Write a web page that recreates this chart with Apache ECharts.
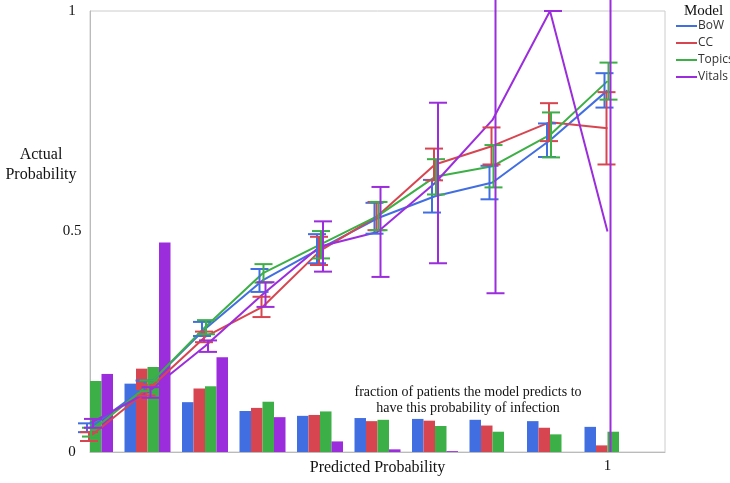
<!DOCTYPE html>
<html>
<head>
<meta charset="utf-8">
<script src="https://cdn.jsdelivr.net/npm/echarts@6/dist/echarts.min.js"></script>
<style>
html,body{margin:0;padding:0;background:#fff;}
#chart{width:730px;height:483px;}
</style>
</head>
<body>
<div id="chart"></div>
<script>
// ---- data ----
var bins = [0.1, 0.2, 0.3, 0.4, 0.5, 0.6, 0.7, 0.8, 0.9, 1.0];
var models = ['BoW', 'CC', 'Topics', 'Vitals'];
var xTickLabels = ['1'];
var yTickLabels = ['0', '0.5', '1'];

// fraction of patients per bin (bars)
var barBoW    = [0.150, 0.155, 0.113, 0.093, 0.082, 0.077, 0.075, 0.073, 0.070, 0.057];
var barCC     = [0.160, 0.189, 0.144, 0.100, 0.084, 0.070, 0.071, 0.060, 0.055, 0.015];
var barTopics = [0.161, 0.193, 0.149, 0.114, 0.092, 0.073, 0.059, 0.046, 0.040, 0.046];
var barVitals = [0.177, 0.475, 0.215, 0.079, 0.024, 0.006, 0.002, 0.000, 0.000, 0.000];

// actual probability (lines)
var actBoW    = [0.055, 0.150, 0.279, 0.389, 0.461, 0.530, 0.580, 0.611, 0.707, 0.820];
var actCC     = [0.035, 0.140, 0.261, 0.329, 0.456, 0.535, 0.652, 0.694, 0.748, 0.734];
var actTopics = [0.045, 0.150, 0.283, 0.405, 0.470, 0.535, 0.624, 0.648, 0.719, 0.841];
var actVitals = [0.065, 0.135, 0.240, 0.357, 0.466, 0.499, 0.610, 0.753, 1.000, 0.500];

// error half-widths
var errBoW    = [0.010, 0.012, 0.016, 0.026, 0.033, 0.035, 0.037, 0.038, 0.038, 0.039];
var errCC     = [0.010, 0.012, 0.012, 0.023, 0.032, 0.032, 0.036, 0.042, 0.043, 0.082];
var errTopics = [0.010, 0.012, 0.016, 0.021, 0.031, 0.032, 0.040, 0.048, 0.051, 0.042];
var errVitals = [0.010, 0.012, 0.013, 0.028, 0.057, 0.102, 0.182, 0.393, 0.000, 0.600];

var colors = ['#416EE1', '#D74650', '#3CAF46', '#9B2DDC'];
var bars = [barBoW, barCC, barTopics, barVitals];
var acts = [actBoW, actCC, actTopics, actVitals];
var errs = [errBoW, errCC, errTopics, errVitals];

var BAR_W = 11.5;
var ERR_OFF = [-3, -1, 1, 3];
var CAP = 9;

var serif = '"Liberation Serif","Times New Roman",serif';
var sans = '"Open Sans","Noto Sans",sans-serif';

var series = [];
models.forEach(function (m, k) {
  series.push({
    name: m + ' fraction',
    type: 'custom',
    z: 1,
    data: bins.map(function (b, i) { return [b, bars[k][i]]; }),
    renderItem: function (params, api) {
      var top = api.coord([api.value(0), api.value(1)]);
      var base = api.coord([api.value(0), 0]);
      var rect = {
        x: top[0] + (k - 2) * BAR_W,
        y: top[1],
        width: BAR_W,
        height: base[1] - top[1]
      };
      var cs = params.coordSys;
      rect = echarts.graphic.clipRectByRect(rect, {x: cs.x, y: cs.y, width: cs.width, height: cs.height});
      if (!rect) return null;
      return { type: 'rect', shape: rect, style: { fill: colors[k] } };
    }
  });
});
models.forEach(function (m, k) {
  series.push({
    name: m,
    type: 'line',
    z: 3,
    showSymbol: false,
    symbol: 'none',
    color: colors[k],
    lineStyle: { width: 2, color: colors[k] },
    data: bins.map(function (b, i) { return [b, acts[k][i]]; })
  });
});
models.forEach(function (m, k) {
  series.push({
    name: m + ' error',
    type: 'custom',
    z: 4,
    data: bins.map(function (b, i) { return [b, acts[k][i] - errs[k][i], acts[k][i] + errs[k][i]]; }),
    renderItem: function (params, api) {
      var lo = api.value(1), hi = api.value(2);
      var loCap = true;
      if (lo < 0) { lo = 0; loCap = false; }
      var pLo = api.coord([api.value(0), lo]);
      var pHi = api.coord([api.value(0), hi]);
      var x = pLo[0] + ERR_OFF[k];
      var st = { stroke: colors[k], lineWidth: 2 };
      var children = [
        { type: 'line', shape: { x1: x, y1: pLo[1], x2: x, y2: pHi[1] }, style: st },
        { type: 'line', shape: { x1: x - CAP, y1: pHi[1], x2: x + CAP, y2: pHi[1] }, style: st }
      ];
      if (loCap) children.push({ type: 'line', shape: { x1: x - CAP, y1: pLo[1], x2: x + CAP, y2: pLo[1] }, style: st });
      return { type: 'group', children: children };
    }
  });
});

var chart = echarts.init(document.getElementById('chart'), null, { renderer: 'canvas' });
chart.setOption({
  animation: false,
  backgroundColor: '#ffffff',
  grid: { left: 90, right: 65, top: 11, bottom: 31, containLabel: false, outerBoundsMode: 'none', show: true, borderColor: '#cccccc', borderWidth: 1 },
  title: {
    text: 'Model', left: 679, top: -1,
    textStyle: { fontFamily: serif, fontSize: 15, fontWeight: 'normal', color: '#111' }
  },
  legend: {
    data: models.map(function (m) { return { name: m, icon: 'rect' }; }),
    orient: 'vertical',
    left: 671, top: 15,
    itemWidth: 21, itemHeight: 2,
    itemGap: 5,
    textStyle: { fontFamily: sans, fontSize: 12, color: '#333', padding: [0, 0, 0, -4] }
  },
  xAxis: {
    type: 'value', min: 0.1, max: 1.1, interval: 0.1,
    name: 'Predicted Probability', nameLocation: 'middle', nameGap: 8, nameMoveOverlap: false,
    nameTextStyle: { fontFamily: serif, fontSize: 16, color: '#111', verticalAlign: 'top' },
    axisLine: { show: true, lineStyle: { color: '#bbbbbb' } },
    axisTick: { show: false },
    splitLine: { show: false },
    axisLabel: {
      margin: 7, fontFamily: serif, fontSize: 15, color: '#111',
      formatter: function (v) {
        for (var i = 0; i < xTickLabels.length; i++) {
          if (Math.abs(v - parseFloat(xTickLabels[i])) < 1e-6) return xTickLabels[i];
        }
        return '';
      }
    }
  },
  yAxis: {
    type: 'value', min: 0, max: 1, interval: 0.5,
    axisLine: { show: true, lineStyle: { color: '#bbbbbb' } },
    axisTick: { show: false },
    splitLine: { show: false },
    axisLabel: {
      margin: 18, align: 'center', fontFamily: serif, fontSize: 15, color: '#111',
      formatter: function (v) {
        for (var i = 0; i < yTickLabels.length; i++) {
          if (Math.abs(v - parseFloat(yTickLabels[i])) < 1e-6) return yTickLabels[i];
        }
        return '';
      }
    }
  },
  graphic: [
    {
      type: 'text', x: 41, y: 145, z: 10,
      style: { text: 'Actual\nProbability', fontFamily: serif, fontSize: 16, lineHeight: 20, fill: '#111', align: 'center', verticalAlign: 'top' }
    },
    {
      type: 'text', z: 10,
      x: 468, y: 384,
      style: {
        text: 'fraction of patients the model predicts to\nhave this probability of infection',
        fontFamily: serif, fontSize: 14, lineHeight: 16, fill: '#111', align: 'center', verticalAlign: 'top'
      }
    }
  ],
  series: series
});
</script>
</body>
</html>
